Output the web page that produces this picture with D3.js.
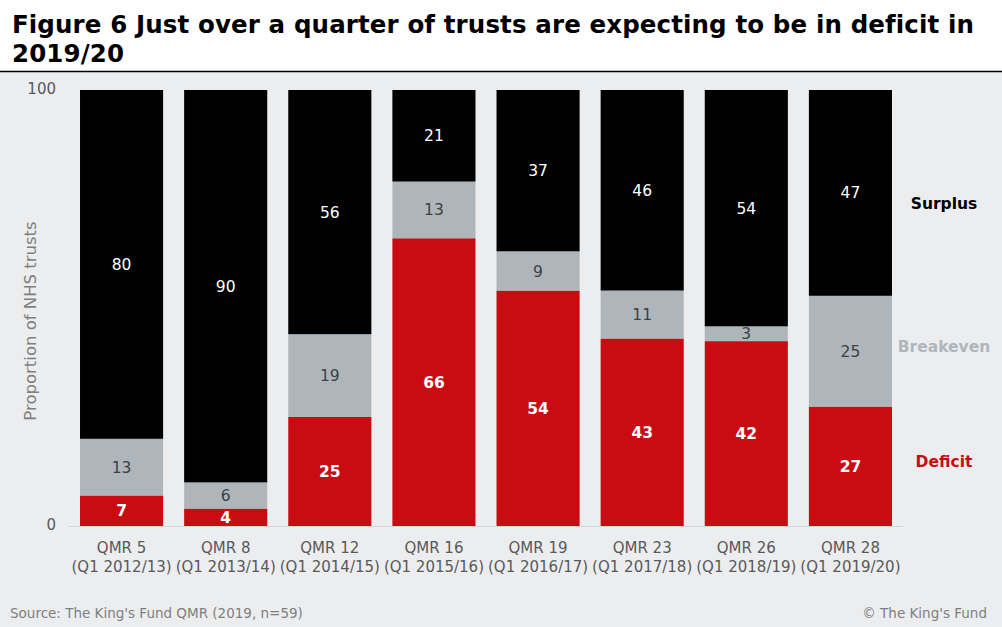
<!DOCTYPE html>
<html><head><meta charset="utf-8">
<script src="https://cdn.jsdelivr.net/npm/d3@7"></script>
<style>
body{margin:0;background:#fff;}
svg{display:block;font-family:Verdana,"DejaVu Sans",sans-serif;}
</style></head><body>
<svg id="c" width="1002" height="627"></svg>
<script>
const categories = ["QMR 5|(Q1 2012/13)","QMR 8|(Q1 2013/14)","QMR 12|(Q1 2014/15)","QMR 16|(Q1 2015/16)","QMR 19|(Q1 2016/17)","QMR 23|(Q1 2017/18)","QMR 26|(Q1 2018/19)","QMR 28|(Q1 2019/20)"];
const deficit   = [7, 4, 25, 66, 54, 43, 42.4, 27.4];
const breakeven = [13, 6, 19, 13, 9, 11, 3.4, 25.4];
const surplus   = [80, 90, 56, 21, 37, 46, 54.2, 47.2];
const deficitLabels   = [7, 4, 25, 66, 54, 43, 42, 27];
const breakevenLabels = [13, 6, 19, 13, 9, 11, 3, 25];
const surplusLabels   = [80, 90, 56, 21, 37, 46, 54, 47];
const yTicks = [0, 100];
const seriesNames = ["Deficit", "Breakeven", "Surplus"];

const svg = d3.select("#c");
const W = 1002, H = 627;
svg.append("rect").attr("x",0).attr("y",71).attr("width",W).attr("height",H-71).attr("fill","#ecedef");
svg.append("line").attr("x1",0).attr("x2",W).attr("y1",71.5).attr("y2",71.5).attr("stroke","#000").attr("stroke-width",1.3);
const title = svg.append("text").attr("font-weight","bold").attr("font-size",24.5).attr("letter-spacing",0.12).attr("fill","#000");
title.append("tspan").attr("x",12).attr("y",33).text("Figure 6 Just over a quarter of trusts are expecting to be in deficit in");
title.append("tspan").attr("x",12).attr("y",62).text("2019/20");

const x = d3.scaleBand().domain(categories).range([70, 902]).paddingInner(0.2019).paddingOuter(0.0962);
const y = d3.scaleLinear().domain([0,100]).range([526, 90]);

// baseline
svg.append("line").attr("x1",69).attr("x2",903).attr("y1",526.5).attr("y2",526.5).attr("stroke","#d4d5d8").attr("stroke-width",1.2);

const rows = categories.map((c,i)=>({cat:c, Deficit:deficit[i], Breakeven:breakeven[i], Surplus:surplus[i]}));
const stack = d3.stack().keys(seriesNames)(rows);
const colors = {Deficit:"#c90c12", Breakeven:"#afb6bb", Surplus:"#000000"};
const labelSets = {Deficit:deficitLabels, Breakeven:breakevenLabels, Surplus:surplusLabels};
const labelStyle = {Deficit:{fill:"#fff",weight:"bold"}, Breakeven:{fill:"#404040",weight:"normal"}, Surplus:{fill:"#fff",weight:"normal"}};

stack.forEach(s=>{
  const g = svg.append("g");
  g.selectAll("rect").data(s).join("rect")
    .attr("x",d=>x(d.data.cat)).attr("width",x.bandwidth())
    .attr("y",d=>y(d[1])).attr("height",d=>y(d[0])-y(d[1]))
    .attr("fill",colors[s.key]);
  g.selectAll("text").data(s).join("text")
    .attr("x",d=>x(d.data.cat)+x.bandwidth()/2)
    .attr("y",d=>(y(d[0])+y(d[1]))/2)
    .attr("dy","0.36em").attr("text-anchor","middle")
    .attr("font-size",15.5).attr("font-weight",labelStyle[s.key].weight)
    .attr("fill",labelStyle[s.key].fill)
    .text((d,i)=>labelSets[s.key][i]);
});

// y axis
const yAxis = d3.axisLeft(y).tickValues(yTicks).tickSize(0).tickPadding(0);
const ya = svg.append("g").attr("transform","translate(56,0)").call(yAxis);
ya.select(".domain").remove();
ya.selectAll("text").attr("font-size",15).attr("fill","#595959").attr("font-family",'Verdana,"DejaVu Sans",sans-serif').attr("dy","0.2em");

svg.append("text").attr("transform","translate(36,321) rotate(-90)").attr("text-anchor","middle")
  .attr("font-size",16.5).attr("fill","#7f7f7f").text("Proportion of NHS trusts");

// x axis
const xAxis = d3.axisBottom(x).tickSize(0).tickPadding(0);
const xa = svg.append("g").attr("transform","translate(0,526)").call(xAxis);
xa.select(".domain").remove();
xa.selectAll("text").each(function(d){
  const t = d3.select(this); t.text(null);
  t.attr("font-size",15).attr("fill","#595959").attr("font-family",'Verdana,"DejaVu Sans",sans-serif').attr("dy",null).attr("y",0);
  const parts = d.split("|");
  t.append("tspan").attr("x",0).attr("y",27).text(parts[0]);
  t.append("tspan").attr("x",0).attr("y",46).text(parts[1]);
});

// legend labels at right of last bar
const legendX = 944;
const legendY = {Surplus:203, Breakeven:346, Deficit:461};
const legendColors = {Surplus:"#000", Breakeven:"#afb6bb", Deficit:"#c90c12"};
seriesNames.forEach(k=>{
  svg.append("text").attr("x",legendX).attr("y",legendY[k]).attr("dy","0.36em").attr("text-anchor","middle")
    .attr("font-size",15.5).attr("font-weight","bold").attr("fill",legendColors[k]).text(k);
});

svg.append("text").attr("x",10).attr("y",618).attr("font-size",13.5).attr("fill","#7f7f7f").text("Source: The King's  Fund QMR (2019, n=59)");
svg.append("text").attr("x",987).attr("y",618).attr("text-anchor","end").attr("font-size",13.5).attr("fill","#7f7f7f").text("© The King's  Fund");
</script>
</body></html>
